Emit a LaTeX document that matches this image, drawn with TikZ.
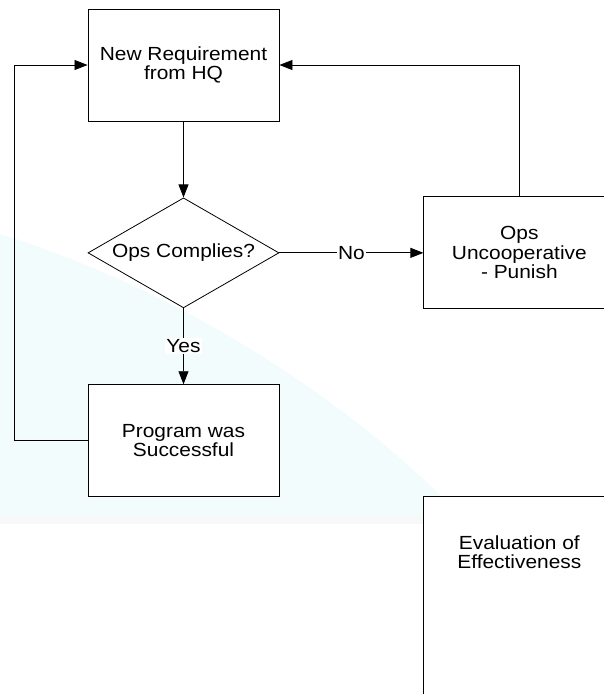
\documentclass[tikz,border=0pt]{standalone}
\usepackage{fontspec}
\setmainfont{Liberation Sans}[FakeStretch=1.1]
\usepackage{xcolor}
\usepackage{tikz}
\usetikzlibrary{positioning,arrows.meta,shapes.geometric}
\definecolor{swoosh}{RGB}{242,252,253}
\definecolor{swooshedge}{RGB}{247,249,249}

\begin{document}
\begin{tikzpicture}
		[x=1pt,y=-1pt,
		font=\fontsize{19}{19.5}\selectfont,
		box/.style={draw,fill=white,line width=0.9pt,align=center,minimum width=191pt,minimum height=112pt,inner sep=2pt},
		decision/.style={draw,fill=white,diamond,aspect=1.74,line width=0.8pt,minimum width=191pt,minimum height=110pt,inner sep=0pt},
		link/.style={line width=0.8pt,-{Triangle[length=13pt,width=10pt]}},
		tag/.style={fill=white,inner sep=1.5pt}]
		\useasboundingbox (0,0) rectangle (604,694);
		\clip (0,0) rectangle (604,694);
		\fill[swoosh] (0,234) .. controls (150,280) and (330,380) .. (460,515) -- (0,515) -- cycle;
		\fill[swooshedge] (0,515) rectangle (440,524);
		\node[box] (req) at (183.5,65) {New Requirement\\from HQ};
		\node[decision, below=76pt of req] (dec) {Ops Complies?};
		\node[box, below=76pt of dec] (prog) {Program was\\Successful};
		\node[box, right=144pt of dec] (ops) {Ops\\Uncooperative\\- Punish};
		\node[box, below=187pt of ops, minimum height=240pt,
			label={[align=center,anchor=center,yshift=-56pt]north:Evaluation of\\Effectiveness}] (eval) {};
		\draw[link] (req) -- (dec);
		\draw[link] (dec) -- node[tag] {No} (ops);
		\draw[link] (dec) -- node[tag] {Yes} (prog);
		\draw[link] (prog.west) -- ++(-73,0) |- (req.west);
		\draw[link] (ops.north) |- (req.east);
\end{tikzpicture}
\end{document}
